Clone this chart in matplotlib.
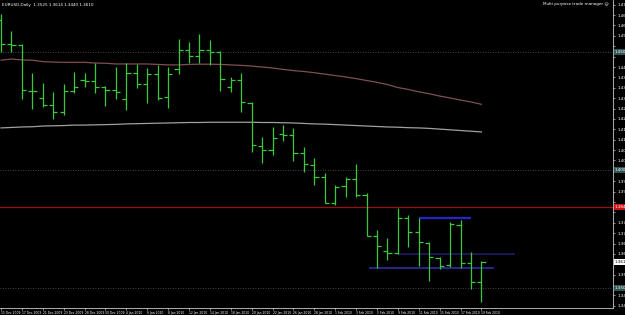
import numpy as np
import matplotlib.pyplot as plt

# EURUSD daily bars, 15 Dec 2009 .. 19 Feb 2010
opens = [1.4635, 1.4534, 1.4529, 1.4334, 1.4305, 1.4275, 1.4245, 1.4334, 1.4381, 1.4377,
         1.4351, 1.4339, 1.4301, 1.4411, 1.4364, 1.4406, 1.4309, 1.4428, 1.4508, 1.4483,
         1.4508, 1.4500, 1.4351, 1.4381, 1.4284, 1.4101, 1.4084, 1.4152, 1.4148, 1.4072,
         1.4021, 1.3970, 1.3860, 1.3932, 1.3962, 1.3894, 1.3720, 1.3657, 1.3648, 1.3796,
         1.3737, 1.3690, 1.3627, 1.3597, 1.3767, 1.3606, 1.3525]
highs = [1.4661, 1.4589, 1.4534, 1.4411, 1.4368, 1.4330, 1.4364, 1.4415, 1.4411, 1.4453,
         1.4356, 1.4436, 1.4453, 1.4449, 1.4432, 1.4445, 1.4436, 1.4555, 1.4542, 1.4576,
         1.4551, 1.4504, 1.4394, 1.4411, 1.4288, 1.4140, 1.4182, 1.4190, 1.4178, 1.4097,
         1.4051, 1.3987, 1.3936, 1.3970, 1.4025, 1.3902, 1.3745, 1.3712, 1.3839, 1.3809,
         1.3796, 1.3695, 1.3631, 1.3779, 1.3788, 1.3652, 1.3614]
lows = [1.4500, 1.4500, 1.4301, 1.4258, 1.4267, 1.4216, 1.4233, 1.4326, 1.4351, 1.4326,
        1.4271, 1.4301, 1.4254, 1.4347, 1.4284, 1.4296, 1.4262, 1.4406, 1.4453, 1.4453,
        1.4445, 1.4334, 1.4330, 1.4245, 1.4076, 1.4029, 1.4063, 1.4123, 1.4038, 1.3991,
        1.3936, 1.3860, 1.3851, 1.3885, 1.3885, 1.3720, 1.3584, 1.3618, 1.3644, 1.3673,
        1.3593, 1.3529, 1.3580, 1.3589, 1.3584, 1.3496, 1.3440]
closes = [1.4534, 1.4529, 1.4339, 1.4334, 1.4275, 1.4245, 1.4334, 1.4351, 1.4377, 1.4351,
          1.4339, 1.4330, 1.4411, 1.4364, 1.4406, 1.4305, 1.4406, 1.4508, 1.4483, 1.4508,
          1.4500, 1.4385, 1.4381, 1.4288, 1.4106, 1.4084, 1.4135, 1.4148, 1.4072, 1.4025,
          1.3970, 1.3860, 1.3928, 1.3962, 1.3894, 1.3720, 1.3678, 1.3648, 1.3796, 1.3737,
          1.3695, 1.3631, 1.3593, 1.3771, 1.3606, 1.3525, 1.3610]

# moving averages
ma_brown = [1.4465, 1.4470, 1.4466, 1.4465, 1.4459, 1.4457, 1.4456, 1.4456, 1.4456, 1.4453,
            1.4452, 1.4449, 1.4449, 1.4449, 1.4449, 1.4447, 1.4445, 1.4445, 1.4447, 1.4448,
            1.4448, 1.4447, 1.4445, 1.4443, 1.4440, 1.4436, 1.4432, 1.4426, 1.4421, 1.4417,
            1.4412, 1.4406, 1.4400, 1.4394, 1.4387, 1.4379, 1.4371, 1.4362, 1.4349, 1.4341,
            1.4331, 1.4323, 1.4313, 1.4305, 1.4296, 1.4288, 1.4278]
ma_gray = [1.4178, 1.4180, 1.4182, 1.4183, 1.4186, 1.4187, 1.4188, 1.4190, 1.4190, 1.4191,
           1.4192, 1.4193, 1.4195, 1.4196, 1.4197, 1.4198, 1.4199, 1.4200, 1.4201, 1.4201,
           1.4202, 1.4202, 1.4202, 1.4202, 1.4202, 1.4201, 1.4201, 1.4200, 1.4199, 1.4197,
           1.4195, 1.4194, 1.4192, 1.4190, 1.4188, 1.4186, 1.4184, 1.4182, 1.4181, 1.4179,
           1.4178, 1.4176, 1.4173, 1.4170, 1.4167, 1.4164, 1.4161]

date_labels = ['15 Dec 2009', '17 Dec 2009', '21 Dec 2009', '23 Dec 2009', '28 Dec 2009',
               '30 Dec 2009', '4 Jan 2010', '6 Jan 2010', '8 Jan 2010', '12 Jan 2010',
               '14 Jan 2010', '18 Jan 2010', '20 Jan 2010', '22 Jan 2010', '26 Jan 2010',
               '28 Jan 2010', '1 Feb 2010', '3 Feb 2010', '5 Feb 2010', '9 Feb 2010',
               '11 Feb 2010', '15 Feb 2010', '17 Feb 2010', '19 Feb 2010']

round_levels = [1.4500, 1.4000, 1.3500]
red_level = 1.3843
# trend lines: start bar, end bar, price
blue_starts = [40, 38, 35.2]
blue_ends = [45, 49.2, 47.2]
blue_prices = [1.3796, 1.3644, 1.3584]
last_price = 1.3610

green = '#3cc83c'
small = 3.0

fig = plt.figure(figsize=(6.25, 3.15), dpi=100, facecolor='black')
ax = fig.add_axes([0, 7 / 315, 613 / 625, 308 / 315])
ax.set_facecolor('black')

x = np.arange(len(opens))
ax.set_xlim(-0.1, 58.6)
ax.set_ylim(1.3415, 1.4720)

for lvl in round_levels:
    ax.axhline(lvl, color='#5a5a5a', lw=0.6, ls=(0, (1, 2)))
ax.axhline(red_level, color='#9a1010', lw=0.9)

ax.hlines(blue_prices[0], blue_starts[0], blue_ends[0], color='#2626c8', lw=1.6)
ax.hlines(blue_prices[1], blue_starts[1], blue_ends[1], color='#1c1c66', lw=1.2)
ax.hlines(blue_prices[2], blue_starts[2], blue_ends[2], color='#26268e', lw=1.4)

ax.plot(x, ma_brown, color='#7e5050', lw=0.9)
ax.plot(x, ma_gray, color='#a0a0a0', lw=0.9)

# OHLC bars
ax.vlines(x, lows, highs, color=green, lw=0.9)
ax.hlines(opens, x - 0.4, x, color=green, lw=0.9)
ax.hlines(closes, x, x + 0.4, color=green, lw=0.9)

for s in ['top', 'left']:
    ax.spines[s].set_visible(False)
for s in ['right', 'bottom']:
    ax.spines[s].set_color('#c8c8c8')
    ax.spines[s].set_linewidth(0.6)

# right price scale; skip labels hidden under the highlighted ones
marked = round_levels + [red_level, last_price]
yt = np.arange(1.4700, 1.3420, -0.0044)
ax.yaxis.tick_right()
ax.set_yticks(yt)
ax.set_yticklabels(['' if min(abs(v - m) for m in marked) < 0.0028 else '%.4f' % v for v in yt])
ax.tick_params(axis='y', colors='#c8c8c8', labelcolor='white', labelsize=small,
               length=1.5, width=0.5, pad=1.5)

ax.set_xticks(x[::2])
ax.set_xticklabels(date_labels)
ax.tick_params(axis='x', colors='#c8c8c8', labelcolor='white', labelsize=2.2,
               length=1.5, width=0.5, pad=0.8)
for lab in ax.get_xticklabels():
    lab.set_horizontalalignment('left')

tr = ax.get_yaxis_transform()
for lvl in round_levels:
    ax.text(1.002, lvl, '%.4f' % lvl, transform=tr, fontsize=small, color='white',
            va='center', ha='left', clip_on=False,
            bbox=dict(boxstyle='square,pad=0.15', fc='#2f5656', ec='none'))
ax.text(1.002, red_level, '%.4f' % red_level, transform=tr, fontsize=small, color='white',
        va='center', ha='left', clip_on=False,
        bbox=dict(boxstyle='square,pad=0.15', fc='#d01010', ec='none'))
ax.text(1.002, last_price, '%.4f' % last_price, transform=tr, fontsize=small, color='black',
        va='center', ha='left', clip_on=False,
        bbox=dict(boxstyle='square,pad=0.15', fc='white', ec='none'))

ax.text(0.003, 0.99, 'EURUSD,Daily  %.4f %.4f %.4f %.4f' % (opens[-1], highs[-1], lows[-1], closes[-1]),
        transform=ax.transAxes, fontsize=small, color='white', va='top', ha='left')
ax.text(0.993, 0.993, 'Multi purpose trade manager \u263a', transform=ax.transAxes,
        fontsize=small, color='white', va='top', ha='right')

plt.savefig('out.png', dpi=100, facecolor='black')
